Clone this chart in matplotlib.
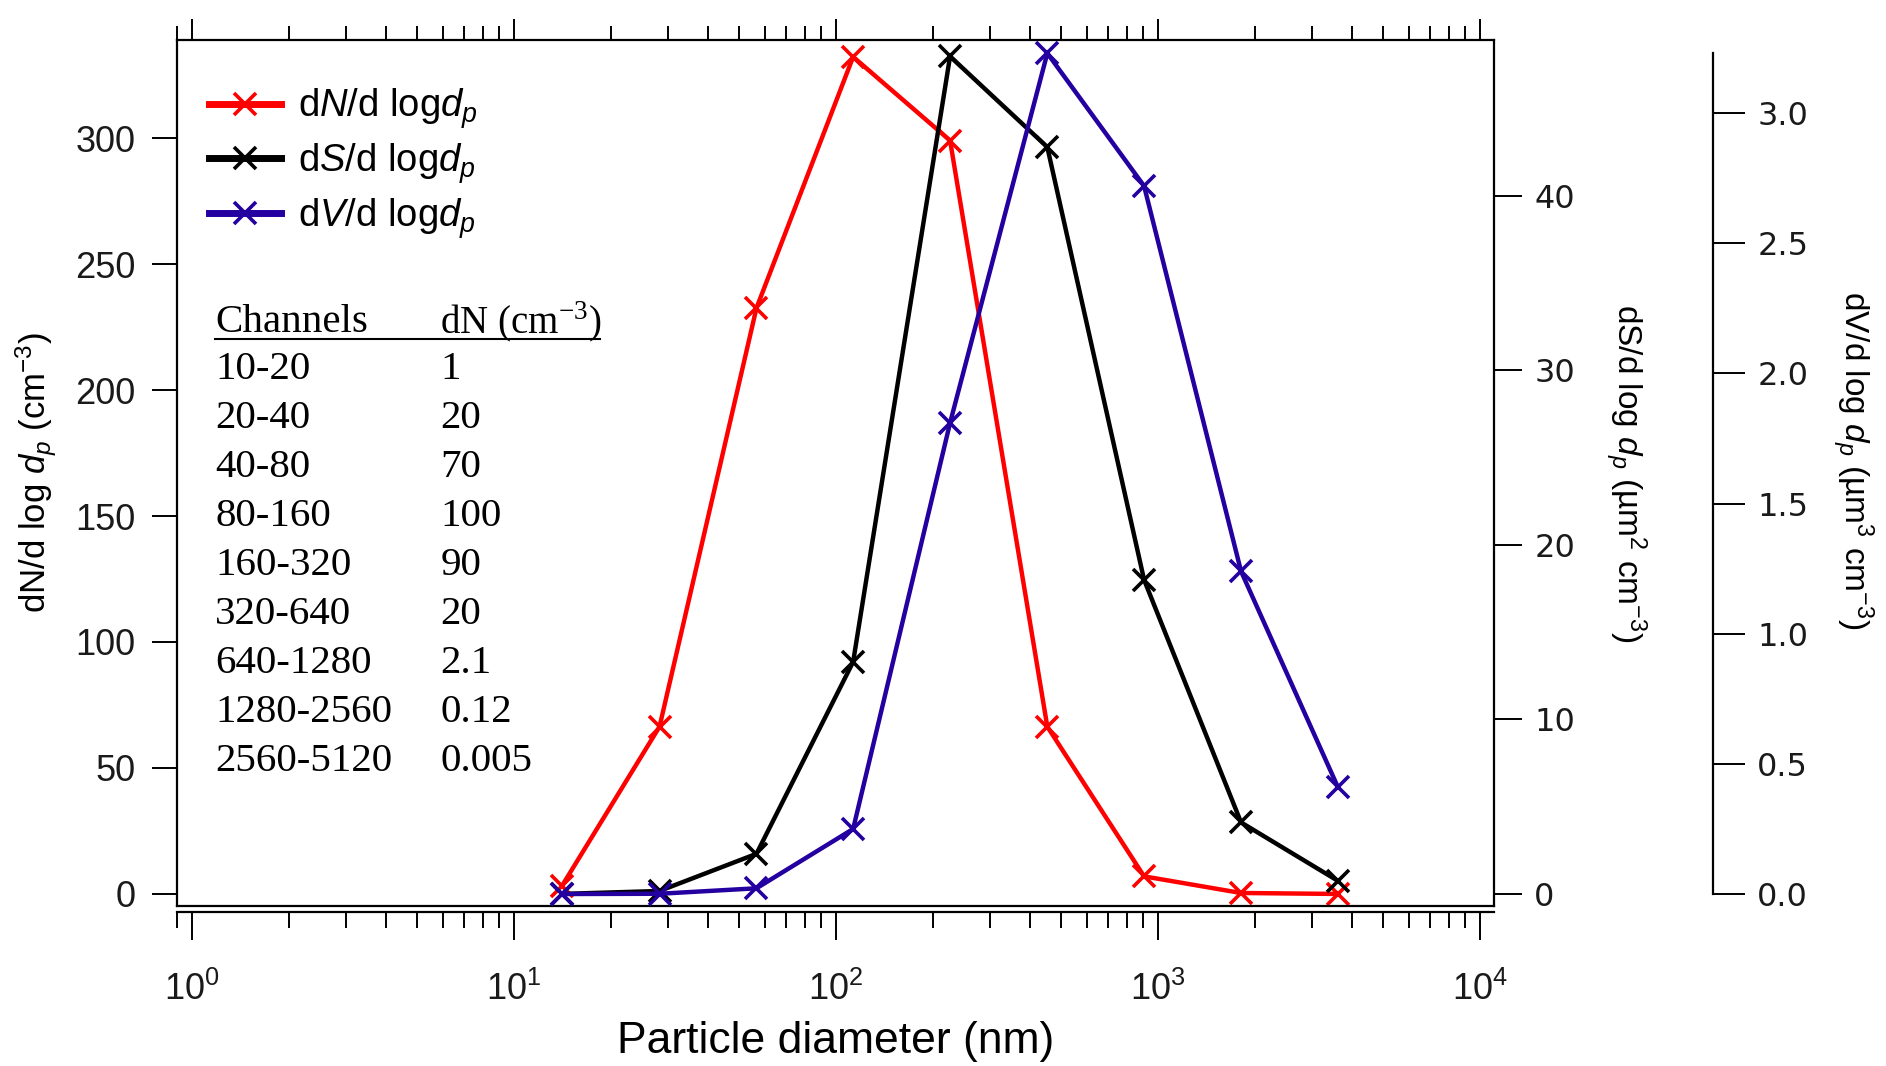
import numpy as np
import matplotlib.pyplot as plt
from matplotlib.ticker import FixedLocator, LogLocator, NullFormatter

plt.rcParams["font.family"] = ["Liberation Sans", "DejaVu Sans"]
plt.rcParams["mathtext.fontset"] = "custom"
plt.rcParams["mathtext.rm"] = "Liberation Sans"
plt.rcParams["mathtext.it"] = "Liberation Sans:italic"

# Channel midpoints (nm) and size distributions
dp_nm = [14.1, 28.3, 56.6, 113, 226, 453, 905, 1810, 3620]
dN_dlogdp = [3.3, 66.4, 232.5, 332.2, 299.0, 66.4, 7.0, 0.4, 0.02]
dS_dlogdp = [0.002, 0.17, 2.3, 13.3, 48.0, 42.8, 18.0, 4.1, 0.75]
dV_dlogdp = [0.0, 0.001, 0.022, 0.25, 1.81, 3.23, 2.72, 1.24, 0.41]

# Table in the upper left
channels = ["10-20", "20-40", "40-80", "80-160", "160-320", "320-640",
            "640-1280", "1280-2560", "2560-5120"]
dN_channel = ["1", "20", "70", "100", "90", "20", "2.1", "0.12", "0.005"]

x_major = [1, 10, 100, 1000, 10000]
x_labels = [r"$\mathregular{10^{%d}}$" % i for i in range(5)]
n_ticks = [0, 50, 100, 150, 200, 250, 300]
s_ticks = [0, 10, 20, 30, 40]
v_ticks = [0.0, 0.5, 1.0, 1.5, 2.0, 2.5, 3.0]

red = "#ff0000"
black = "#000000"
blue = "#2400a0"
ink = "#1a1a1a"

fig = plt.figure(figsize=(18.86, 10.66), dpi=100)
ax = fig.add_axes([0.0938, 0.1501, 0.6983, 0.8124])
ax2 = ax.twinx()
ax3 = ax.twinx()

line_kw = dict(lw=3.2, marker="x", ms=16, mew=2.6)
l1, = ax.plot(dp_nm, dN_dlogdp, color=red, label=r"d$N$/d log$d_p$", **line_kw)
l2, = ax2.plot(dp_nm, dS_dlogdp, color=black, label=r"d$S$/d log$d_p$", **line_kw)
l3, = ax3.plot(dp_nm, dV_dlogdp, color=blue, label=r"d$V$/d log$d_p$", **line_kw)

ax.set_xscale("log")
ax.set_xlim(10 ** -0.047, 10 ** 4.043)
ax.set_ylim(-4.76, 338.9)
ax2.set_ylim(-0.69, 48.94)
ax3.set_ylim(-0.046, 3.281)

# x axis
ax.xaxis.set_major_locator(FixedLocator(x_major))
ax.set_xticklabels(x_labels)
ax.xaxis.set_minor_locator(LogLocator(base=10, subs=np.arange(2, 10)))
ax.xaxis.set_minor_formatter(NullFormatter())
ax.spines["bottom"].set_position(("outward", 4.5))
ax.tick_params(axis="x", which="major", direction="out", length=20, width=1.4,
               pad=23, labelsize=26, labelcolor=ink, top=False)
ax.tick_params(axis="x", which="minor", direction="out", length=11.5, width=1.4, top=False)
ax.set_xlabel("Particle diameter (nm)", fontsize=32, va="center")
ax.xaxis.set_label_coords(0.5, -0.157)

# top ticks drawn by the twin
ax2.xaxis.set_visible(True)
ax2.tick_params(axis="x", which="major", top=True, bottom=False, labeltop=False,
                labelbottom=False, direction="out", length=15, width=1.4)
ax2.tick_params(axis="x", which="minor", top=True, bottom=False, labeltop=False,
                labelbottom=False, direction="out", length=10, width=1.4)

# left axis
ax.set_yticks(n_ticks)
ax.tick_params(axis="y", direction="out", length=18, width=1.4, pad=12,
               labelsize=26, labelcolor=ink)
ax.set_ylabel(r"dN/d log $d_p$ (cm$^{-3}$)", fontsize=25, rotation=90, va="center")
ax.yaxis.set_label_coords(-0.107, 0.5)

# dS axis
ax2.set_yticks(s_ticks)
ax2.tick_params(axis="y", direction="out", length=20, width=1.4, pad=9,
                labelsize=23, labelcolor=ink)
for t in ax2.get_yticklabels():
    t.set_family("DejaVu Sans")
ax2.set_ylabel(r"dS/d log $d_p$ (µm$^2$ cm$^{-3}$)", fontsize=24, rotation=270,
               va="center", ha="center")
ax2.yaxis.set_label_coords(1.100, 0.5)

# dV axis
ax3.set_yticks(v_ticks)
ax3.set_yticklabels([f"{v:.1f}" for v in v_ticks])
ax3.spines["right"].set_position(("axes", 1.1663))
ax3.spines["right"].set_bounds(0, 3.23)
ax3.tick_params(axis="y", direction="out", length=23, width=1.4, pad=9,
                labelsize=23, labelcolor=ink)
for t in ax3.get_yticklabels():
    t.set_family("DejaVu Sans")
ax3.set_ylabel(r"dV/d log $d_p$ (µm$^3$ cm$^{-3}$)", fontsize=24, rotation=270,
               va="center", ha="center")
ax3.yaxis.set_label_coords(1.2726, 0.515)

for s in ["top", "right"]:
    ax.spines[s].set_visible(False)
ax2.spines["left"].set_visible(False)
for s in ["top", "bottom", "left"]:
    ax3.spines[s].set_visible(False)
for a in [ax, ax2, ax3]:
    for sp in a.spines.values():
        sp.set_linewidth(1.6)

# legend
leg = ax3.legend(handles=[l1, l2, l3], loc="upper left", bbox_to_anchor=(0.024, 0.946),
                 frameon=False, fontsize=27.5, handlelength=1.9, handletextpad=0.45,
                 labelspacing=0.26, borderpad=0, borderaxespad=0)
for h in leg.get_lines():
    h.set_linewidth(5)

# table
serif = ["Liberation Serif", "DejaVu Serif"]
ty = 0.674
ax.text(0.029, ty, "Channels", transform=ax.transAxes, family=serif,
        fontsize=29.5, va="center", ha="left")
ax.text(0.200, ty, r"dN (cm$^{\mathregular{-3}}$)", transform=ax.transAxes,
        family=serif, fontsize=28, va="center", ha="left")
ax.plot([0.029, 0.321], [0.655, 0.655], transform=ax.transAxes, color="k", lw=1.5)
for i, (c, n) in enumerate(zip(channels, dN_channel)):
    y = 0.620 - i * 0.0566
    ax.text(0.029, y, c, transform=ax.transAxes, family=serif, fontsize=29.5,
            va="center", ha="left")
    ax.text(0.200, y, n, transform=ax.transAxes, family=serif, fontsize=29.5,
            va="center", ha="left")

fig.savefig("out.png", dpi=100)
